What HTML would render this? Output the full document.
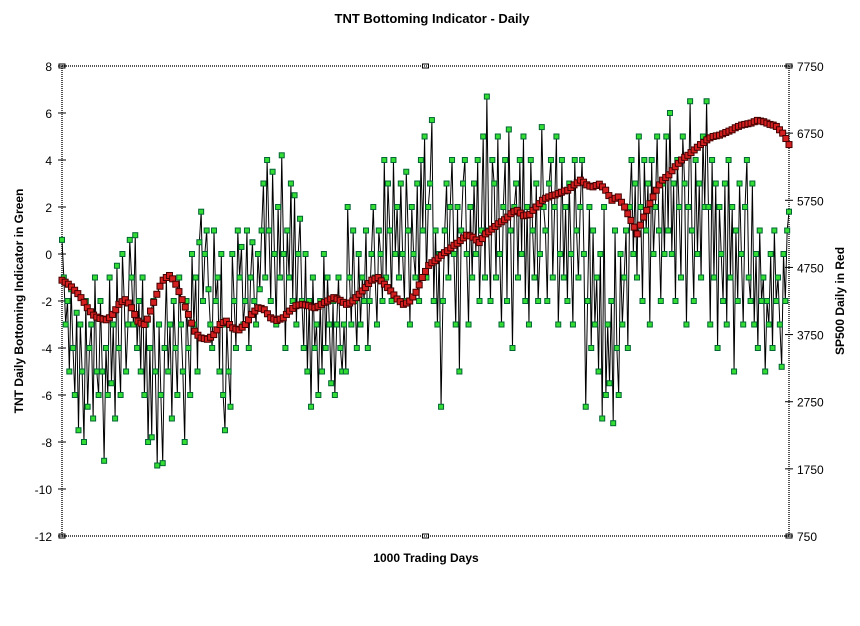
<!DOCTYPE html>
<html><head><meta charset="utf-8"><style>
body{margin:0;background:#fff;}
svg text{font-family:"Liberation Sans",Arial,sans-serif;}
</style></head><body>
<svg id="chart" width="860" height="621" viewBox="0 0 860 621" xmlns="http://www.w3.org/2000/svg">
<text x="432" y="23" text-anchor="middle" font-size="13" font-weight="bold">TNT Bottoming Indicator - Daily</text>
<text x="426" y="562" text-anchor="middle" font-size="12" font-weight="bold">1000 Trading Days</text>
<text transform="translate(23,301) rotate(-90)" text-anchor="middle" font-size="12" font-weight="bold">TNT Daily Bottoming Indicator in Green</text>
<text transform="translate(844,301) rotate(-90)" text-anchor="middle" font-size="12" font-weight="bold">SP500 Daily in Red</text>
<g id="axes"></g>
<g id="marks"></g>
</svg>
<script>
const leftTicks=[8,6,4,2,0,-2,-4,-6,-8,-10,-12];
const rightTicks=[7750,6750,5750,4750,3750,2750,1750,750];
const tnt=[0.6,-1,-3,-2,-5,-1.5,-4,-6,-2.5,-7.5,-3,-5,-8,-2,-6.5,-4,-3,-7,-1,-5,-6,-2,
-5,-8.8,-4,-6,-1,-5.5,-3,-7,-0.5,-4,-6,0,-2,-5,-3,0.6,-1,-3,0.8,-4,-2,-5,
-1,-6,-3,-8,-4,-7.8,-2,-5,-9,-3,-6,-8.9,-4,-1,-5,-3,-7,-2,-4,-6,-1,-3,
-5,-8,-2,-4,-6,0,-3,-1,-5,0.5,1.8,-2,0,1,-1.5,-3,-4,1,-2,-1,-5,0,
-6,-7.5,-3,-5,-6.5,0,-2,-4,1,-1,0.3,-3,-2,1,-4,-1,0.5,-2,-3,0,-1.5,1,
3,-1,4,1,-2,3.5,0,-3,2,-1,4.2,0,-4,1,-1,3,-2,2.5,-3,0,1.5,-2,
-4,0,-5,-2,-6.5,-1,-4,-3,-6,-2,-5,0,-4,-1,-3,-5.5,-2,-6,-3,-1,-4,-5,
-3,-5,2,-1,-3,1,-2,-4,0,-3,-1,-2,1,-4,-2,0,2,-1,-3,1,0,-2,
4,-1,3,1,-2,4,0,2,-1,3,0,-2,3.5,1,-3,2,0,-1,3,-2,4,1,
5,-1,2,3,5.7,-2,1,-3,0,-6.5,-2,1,3,-1,2,4,0,-3,2,-5,1,3,
4,0,-3,2,-1,3,0,4,-2,1,5,-1,6.7,1,-2,4,3,-1,5,0,-3,2,
4,-2,5.3,1,-4,2,3,-1,4,0,5,-2,2,-3,4,1,-1,3,-2,0,5.4,2,
1,-2,3,4,-1,2,5,-3,0,4,-1,2,-2,3,0,-3,4,1,-1,2,4,0,
-6.5,-2,2,-4,1,-3,-1,-5,0,-7,2,-6,-3,-5.5,-2,-7.2,1,-4,-6,0,-3,-1,
1,-4,2,4,0,3,-1,5,2,-2,4,1,3,-3,4,0,2,5,1,-2,3,0,
5,1,6,0,3,-2,4,2,-1,5,3,-3,2,6.5,1,-2,4,0,3,-1,5,2,
6.5,2,-3,4,-1,3,-4,2,0,-2,3,-3,4,-1,2,-5,1,-2,3,0,-3,2,
4,-1,-2,3,-3,0,-4,1,-2,-1,-5,-2,-3,0,-4,1,-2,-1,-3,-4.8,0,-2,1,1.8];
const sp500=[4560,4530,4500,4460,4410,4360,4300,4230,4150,4090,4040,4010,3990,3980,3970,4000,4050,4120,4200,4240,4270,4220,4150,4050,3950,3920,3900,3980,4100,4230,4350,4470,4560,4600,4630,4580,4500,4390,4270,4160,4050,3920,3800,3740,3700,3690,3680,3710,3750,3820,3900,3930,3950,3900,3850,3830,3820,3860,3900,3970,4050,4100,4150,4140,4120,4060,4000,3980,3960,3980,4000,4050,4100,4140,4180,4190,4200,4190,4180,4160,4150,4170,4200,4230,4250,4280,4300,4280,4260,4230,4200,4220,4250,4300,4350,4400,4450,4510,4560,4580,4600,4550,4500,4450,4400,4340,4280,4240,4200,4220,4250,4310,4380,4490,4600,4690,4780,4820,4850,4890,4930,4970,5000,5040,5080,5110,5150,5190,5230,5220,5200,5160,5120,5180,5250,5280,5320,5360,5400,5430,5460,5500,5550,5580,5600,5560,5520,5530,5540,5600,5650,5700,5750,5780,5800,5820,5830,5850,5870,5890,5900,5940,5980,6010,6050,6020,5980,5960,5950,5970,5990,5950,5900,5820,5750,5780,5800,5720,5650,5550,5450,5350,5250,5380,5500,5600,5700,5800,5900,5980,6050,6090,6130,6190,6250,6300,6350,6390,6420,6460,6500,6540,6580,6610,6650,6680,6700,6710,6720,6740,6760,6780,6800,6830,6850,6870,6880,6890,6900,6920,6940,6930,6920,6900,6880,6870,6850,6800,6750,6670,6580];

const NS="http://www.w3.org/2000/svg";
const X0=62,X1=789,Y0=66,Y1=536;
const yL=v=>Y1-(v+12)/20*(Y1-Y0);
const yR=v=>Y1-(v-750)/7000*(Y1-Y0);
const xI=(i,n)=>X0+i/(n-1)*(X1-X0);
function mk(tag,attrs,parent){const e=document.createElementNS(NS,tag);for(const k in attrs)e.setAttribute(k,attrs[k]);parent.appendChild(e);return e;}
const axes=document.getElementById('axes'),marks=document.getElementById('marks');
[[X0,Y0,X1,Y0],[X0,Y1,X1,Y1],[X0,Y0,X0,Y1],[X1,Y0,X1,Y1]].forEach(function(s){
const l=mk('line',{x1:s[0],y1:s[1],x2:s[2],y2:s[3],stroke:'#555','stroke-width':2,'stroke-dasharray':'1,1'},axes);


});
leftTicks.forEach(function(t){
const y=yL(t);
const tk=mk('line',{x1:X0-4,y1:y,x2:X0+4,y2:y,stroke:'#000'},axes);


const tx=mk('text',{x:52,y:y+5,'text-anchor':'end','font-size':12},axes);
tx.textContent=t;


});
rightTicks.forEach(function(t){
const y=yR(t);
const tk=mk('line',{x1:X1-4,y1:y,x2:X1+4,y2:y,stroke:'#000'},axes);


const tx=mk('text',{x:797,y:y+5,'text-anchor':'start','font-size':12},axes);
tx.textContent=t;


});
[X0,(X0+X1)/2,X1].forEach(function(x){[Y0,Y1].forEach(function(y){
const r=mk('rect',{x:x-3,y:y-2,width:6,height:4,fill:'none',stroke:'#000'},axes);


});});
const gl=mk('polyline',{points:tnt.map((v,i)=>xI(i,tnt.length)+','+yL(v)).join(' '),fill:'none',stroke:'#000','stroke-width':1},marks);


const rl=mk('polyline',{points:sp500.map((v,i)=>xI(i,sp500.length)+','+yR(v)).join(' '),fill:'none',stroke:'#000','stroke-width':1},marks);


tnt.forEach(function(v,i){
const r=mk('rect',{x:xI(i,tnt.length)-2.5,y:yL(v)-2.5,width:5,height:5,fill:'#33dd33',stroke:'#063','stroke-width':1},marks);


});
sp500.forEach(function(v,i){
const r=mk('rect',{x:xI(i,sp500.length)-3,y:yR(v)-3,width:6,height:6,fill:'#d42020',stroke:'#400','stroke-width':1},marks);


});
</script>
</body></html>
